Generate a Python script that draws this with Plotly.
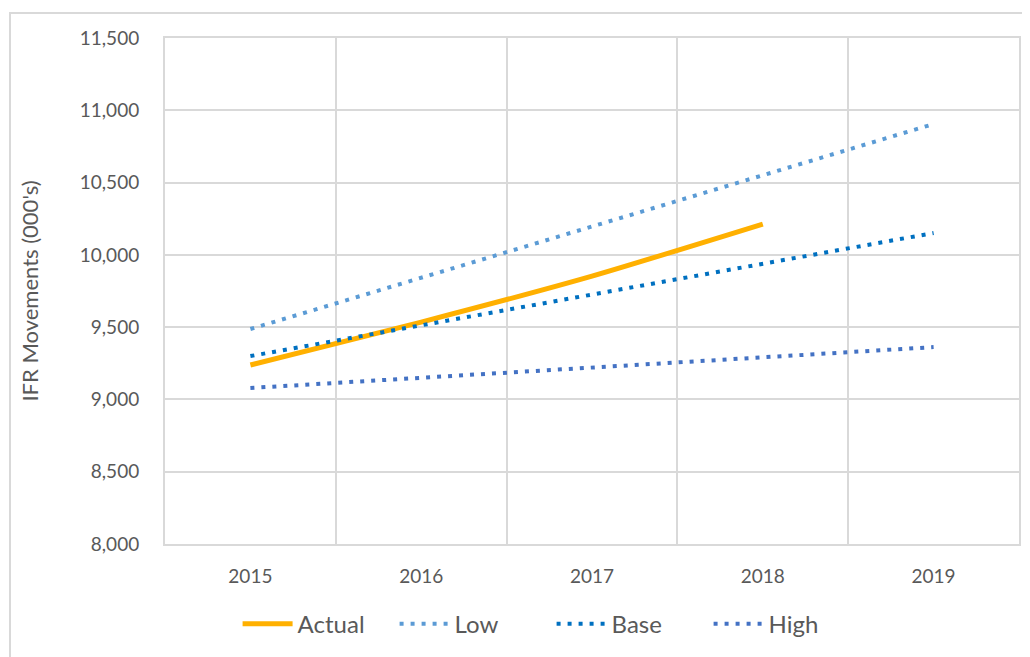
import plotly.graph_objects as go

years = ["2015", "2016", "2017", "2018", "2019"]
actual = [9238, 9535, 9853, 10213]
low = [9487, 9841, 10196, 10550, 10905]
base = [9300, 9512, 9725, 9938, 10151]
high = [9079, 9150, 9220, 9291, 9362]
y_ticks = [8000, 8500, 9000, 9500, 10000, 10500, 11000, 11500]

FONT = "Lato, 'Open Sans', sans-serif"
GRID = "#d9d9d9"
TXT = "#595959"

fig = go.Figure()
fig.add_trace(go.Scatter(x=years[:4], y=actual, name="Actual", mode="lines",
                         line=dict(color="#FFB000", width=5, shape="spline", smoothing=0.6)))
fig.add_trace(go.Scatter(x=years, y=low, name="Low", mode="lines",
                         line=dict(color="#5B9BD5", width=4, dash="4px,7px")))
fig.add_trace(go.Scatter(x=years, y=base, name="Base", mode="lines",
                         line=dict(color="#0070C0", width=4, dash="4px,7px")))
fig.add_trace(go.Scatter(x=years, y=high, name="High", mode="lines",
                         line=dict(color="#4472C4", width=4, dash="4px,7px")))

fig.update_layout(
    width=1030, height=657,
    margin=dict(l=157, r=19, t=30, b=121, autoexpand=False),
    paper_bgcolor="white", plot_bgcolor="white",
    font=dict(family=FONT, color=TXT),
    legend=dict(orientation="h", x=0.085, xanchor="left", y=-0.114, yanchor="top",
                font=dict(size=24, color=TXT), itemwidth=50, tracegroupgap=0,
                entrywidth=92, entrywidthmode="pixels"),
    shapes=[dict(type="rect", xref="paper", yref="paper",
                 x0=-155/854, x1=1.05, y0=-0.3, y1=1 + 25/506,
                 line=dict(color=GRID, width=2), fillcolor="rgba(0,0,0,0)", layer="below")],
)
fig.update_xaxes(type="category", range=[-0.5, 4.5], tickson="boundaries",
                 showgrid=True, gridcolor=GRID, gridwidth=2,
                 showline=True, linecolor=GRID, linewidth=2, mirror=True,
                 ticks="", tickfont=dict(size=19, color=TXT), ticklabelstandoff=14,
                 automargin=False)
fig.update_yaxes(range=[8000, 11500], tickvals=y_ticks, tickformat=",d",
                 showgrid=True, gridcolor=GRID, gridwidth=2,
                 showline=True, linecolor=GRID, linewidth=2, mirror=True,
                 zeroline=False, ticks="", tickfont=dict(size=19, color=TXT),
                 ticklabelstandoff=20, automargin=False,
                 title=dict(text="IFR Movements (000's)", font=dict(size=22, color=TXT), standoff=35))

fig.write_html("out.html")
